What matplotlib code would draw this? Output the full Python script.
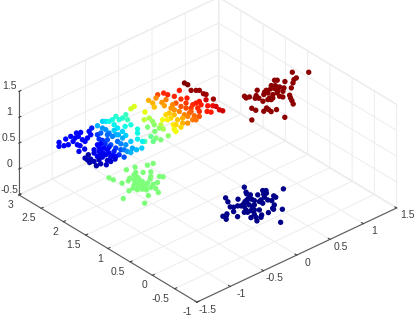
import matplotlib
matplotlib.use("Agg")
import numpy as np
import matplotlib.pyplot as plt

plt.rcParams['font.family'] = ['Liberation Sans', 'DejaVu Sans']

x_ticks = [-1.5, -1, -0.5, 0, 0.5, 1, 1.5]
y_ticks = [-1, -0.5, 0, 0.5, 1, 1.5, 2, 2.5, 3]
z_ticks = [-0.5, 0, 0.5, 1, 1.5]
x_labels = ['-1.5', '-1', '-0.5', '0', '0.5', '1', '1.5']
y_labels = ['-1', '-0.5', '0', '0.5', '1', '1.5', '2', '2.5', '3']
z_labels = ['-0.5', '0', '0.5', '1', '1.5']

# cluster near the origin
blue_x = [.145, .451, .089, .072, .253, .281, .247, .210, .089, .151, .271, .269, -.162, -.076, .028, .039, .043, .108, .174, .164,
          .189, -.198, -.050, -.047, .076, -.094, -.061, -.173, -.145, -.249, -.226, -.126, -.056, .150, .089, .083, .157, -.286, -.206, -.178,
          -.088, -.046, -.007, -.375, -.442, -.409, -.456, -.323, -.225, -.149, -.177, -.220, -.097, -.135, -.040, -.159, -.126, -.018, -.010, .071]
blue_y = [.396, -.025, .274, .233, .144, .111, .052, .058, .176, .103, -.076, -.124, .357, .207, .122, .071, .017, -.035, -.012, -.101,
          -.155, .251, .088, .049, -.121, .054, -.024, .071, .038, .123, .083, -.009, -.092, -.271, -.325, -.355, -.441, -.008, -.128, -.161,
          -.178, -.228, -.373, .009, -.001, -.027, -.096, -.153, -.306, -.269, -.349, -.434, -.356, -.398, -.697, -.096, -.159, -.073, .104, -.054]

# cluster near (-1, 1, 0.5)
green_x = [-.857, -.725, -.653, -.967, -.926, -.864, -.789, -.973, -.977, -1.226, -1.217, -1.055, -.855, -.898, -.782, -.756, -1.191, -1.105, -1.043, -.991,
           -.996, -.978, -.944, -.883, -1.079, -1.071, -1.168, -1.239, -1.155, -1.104, -1.079, -1.009, -.981, -1.016, -1.142, -1.395, -1.280, -1.048, -1.043, -1.052,
           -.999, -1.034, -1.048, -1.113, -1.109]
green_y = [1.352, 1.271, 1.250, 1.382, 1.234, 1.161, 1.099, 1.201, 1.119, 1.386, 1.301, 1.174, 1.001, .952, .916, .872, 1.145, 1.132, 1.096, 1.061,
           .979, .894, .817, .809, .989, .905, .932, .916, .854, .819, .765, .771, .701, .591, .627, .811, .503, .977, .872, 1.045,
           1.108, .960, .828, .991, .901]

# cluster near (1, 1, 1)
red_x = [1.434, 1.572, 1.388, 1.345, 1.290, 1.206, 1.241, 1.172, 1.195, .886, 1.070, 1.017, .962, .920, .939, 1.104, 1.057, 1.121, 1.144, 1.088,
         1.018, .957, .882, .845, .780, .881, .695, .685, .727, .803, .757, .788, 1.089, 1.059, 1.033, .997, 1.008, .990, .910, .873,
         .588, .594, .647, .717, .711, .705, .778, .425, .740, 1.060]
red_y = [1.245, 1.083, 1.087, 1.076, 1.015, .927, 1.123, 1.253, 1.227, 1.215, 1.174, 1.111, 1.125, 1.101, 1.054, 1.134, 1.064, 1.063, 1.000, .939,
         .962, .969, .932, .914, .928, 1.059, 1.215, 1.163, 1.151, 1.113, 1.067, 1.031, .790, .725, .655, .572, .821, .868, .899, .881,
         .891, .810, .710, .752, .698, .630, .619, .646, .376, 1.010]

# long band at z = 0.5, blue end to red end
band_x = [-1.077, -1.152, -1.156, -1.118, -1.164, -1.123, -1.174, -1.100, -1.066, -.997, -.983, -.913, -1.058,
          -1.151, -1.207, -1.156, -1.106, -1.048, -.969, -1.019, -1.030, -1.021, -1.029, -1.110, -.874, -.829, -.955, -.904, -.917, -.918,
          -.744, -.675, -.777, -.851, -.861, -.819, -.959, -.941, -.930, -.931, -.922, -.992, -.870, -.847, -1.025,
          -.594, -.491, -.669, -.580, -.599, -.707, -.782, -.618, -.645, -.753, -.815, -.818, -.809, -.650, -.622, -.749, -.702, -.688, -.566, -.463, -.491, -.520,
          -.435, -.384, -.308, -.327, -.276, -.201, -.257, -.371, -.299, -.304, -.360, -.444, -.435, -.534, -.602, -.458,
          -.415, -.345, -.275, -.257, -.139, -.192, -.069, -.102, -.191, -.107, -.087, -.051,
          -.075, -.014, -.003, -.117, .038, .080, -.014, .005, .089, .058,
          .191, .188, .286, .275, .249, .146, .333, .188, .206, .131, .164, .080, .160, .202, .291, .394, .347,
          .347, .420, .431, .464, .590, .384, .482, .547, .379, .399, .502, .497, .464, .357, .361, .394, .291, .684, .614, .656, .675, .656, .553, .529,
          .736, .740, .689, .731, .759, .746, .759, .755, .670,
          -1.006, -.880, -.852, -.880, -.889, -.973, -.894, -.796, -.758, -.767, -.637, -.544, -.556, -.734, -.706, -.613,
          .272, .276, .295, .469, .441, .553, .572, .604, .230, .296, .319, .136, -.046, -.294, -.440, -.463, -.721, -.585, -.533]
band_y = [2.072, 2.035, 1.976, 1.957, 1.762, 1.875, 1.898, 1.761, 1.684, 1.764, 1.710, 1.717, 1.861,
          2.620, 2.537, 2.501, 2.479, 2.624, 2.630, 2.502, 2.389, 2.343, 2.227, 2.234, 2.644, 2.615, 2.553, 2.555, 2.445, 2.384,
          2.554, 2.597, 2.467, 2.430, 2.191, 2.179, 2.120, 2.036, 1.961, 1.900, 1.801, 1.884, 1.766, 1.988, 1.947,
          2.589, 2.631, 2.403, 2.424, 2.321, 2.197, 2.137, 2.218, 2.063, 1.941, 1.887, 1.768, 1.669, 1.981, 1.911, 2.059, 1.755, 1.701, 2.220, 2.224, 2.107, 2.327,
          2.565, 2.567, 2.604, 2.501, 2.503, 2.540, 2.418, 2.302, 2.280, 2.124, 2.040, 1.914, 1.816, 1.684, 1.701, 2.342,
          1.793, 1.710, 1.754, 1.669, 1.681, 2.066, 2.136, 2.049, 1.904, 1.930, 1.870, 2.239,
          2.615, 2.631, 2.408, 2.253, 2.072, 2.022, 1.696, 1.761, 1.736, 1.861,
          2.616, 2.520, 2.592, 2.442, 2.348, 2.419, 2.287, 2.146, 2.061, 2.024, 1.923, 1.835, 1.804, 1.754, 1.775, 1.779, 2.458,
          2.644, 2.620, 2.545, 2.445, 2.521, 2.289, 2.323, 2.285, 2.169, 2.085, 2.089, 1.969, 1.883, 1.948, 1.842, 1.965, 1.962, 2.062, 1.919, 1.870, 1.823, 1.720, 1.754, 1.807,
          2.625, 2.557, 2.405, 2.356, 2.323, 2.213, 2.173, 2.003, 1.666,
          2.050, 2.127, 2.056, 1.902, 1.813, 1.949, 2.068, 2.028, 2.233, 2.294, 2.302, 2.194, 2.084, 1.856, 1.823, 1.776,
          2.233, 2.165, 2.081, 2.190, 2.035, 2.091, 2.006, 2.093, 1.909, 1.894, 1.742, 2.144, 1.983, 1.838, 2.445, 2.598, 2.401, 2.491, 1.931]
band_c = [.04, .05, .05, .05, .04, .05, .04, .05, .06, .07, .07, .08, .06,
          .11, .11, .11, .11, .11, .12, .11, .11, .11, .10, .10, .13, .13, .12, .12, .12, .12,
          .14, .15, .13, .12, .12, .12, .10, .10, .10, .10, .10, .09, .11, .12, .09,
          .30, .33, .22, .27, .25, .20, .17, .25, .23, .18, .15, .17, .20, .25, .27, .20, .27, .30, .30, .33, .33, .33,
          .37, .38, .40, .39, .40, .42, .42, .37, .38, .38, .37, .36, .36, .33, .31, .35,
          .44, .48, .50, .50, .52, .50, .53, .52, .50, .53, .55, .56,
          .60, .62, .63, .58, .64, .66, .64, .65, .68, .66,
          .72, .72, .76, .75, .74, .70, .77, .70, .71, .68, .70, .68, .72, .75, .78, .82, .78,
          .83, .87, .87, .87, .88, .82, .86, .88, .82, .83, .87, .87, .86, .80, .80, .82, .77, .93, .89, .90, .92, .92, .88, .88,
          1.0, 1.0, .98, .98, .98, .98, .97, .97, .93,
          .09, .11, .12, .11, .11, .09, .11, .15, .17, .17, .23, .30, .30, .21, .24, .29,
          .75, .75, .77, .85, .85, .88, .88, .89, .73, .77, .79, .68, .58, .47, .36, .35, .18, .27, .32]

blue_z = 0.0
green_z = 0.5
red_z = 1.0
band_z = 0.5

fig = plt.figure(figsize=(4.15, 3.15), dpi=100)
ax = fig.add_axes([-0.0096, 0.0113, 1, 1], projection='3d', proj_type='ortho')
ax.view_init(elev=32.2, azim=-131.5)
ax.set_box_aspect((266, 268, 122), zoom=1.226)
ax.set_xlim(-1.5, 1.5)
ax.set_ylim(-1, 3)
ax.set_zlim(-0.5, 1.5)
ax.set_xticks(x_ticks)
ax.set_yticks(y_ticks)
ax.set_zticks(z_ticks)
ax.set_xticklabels(x_labels)
ax.set_yticklabels(y_labels)
ax.set_zticklabels(z_labels)
ax.tick_params(labelsize=7.5, colors='#404040')
ax.tick_params(axis='x', pad=-1)
ax.tick_params(axis='y', pad=-5)
ax.tick_params(axis='z', pad=-5)
for label in ax.get_zticklabels() + ax.get_xticklabels():
    label.set_va('bottom')
for label in ax.get_yticklabels():
    label.set_ha('right')
for a in (ax.xaxis, ax.yaxis, ax.zaxis):
    a.set_pane_color((1, 1, 1, 1))
    a.pane.set_edgecolor('#ededed')
    a.line.set_color('#5a5a5a')
    a.line.set_linewidth(0.8)
    a._axinfo['grid'].update(color='#ededed', linewidth=0.7)
    a._axinfo['tick'].update(inward_factor=0.0, outward_factor=0.12)

all_x = blue_x + green_x + red_x + band_x
all_y = blue_y + green_y + red_y + band_y
all_z = [blue_z] * len(blue_x) + [green_z] * len(green_x) + [red_z] * len(red_x) + [band_z] * len(band_x)
all_c = [0.01] * len(blue_x) + [0.5] * len(green_x) + [0.985] * len(red_x) + band_c
ax.scatter(all_x, all_y, all_z, c=all_c, cmap='jet', vmin=0, vmax=1, s=15, linewidths=0, depthshade=False, alpha=1)
fig.savefig('out.png', dpi=100)
